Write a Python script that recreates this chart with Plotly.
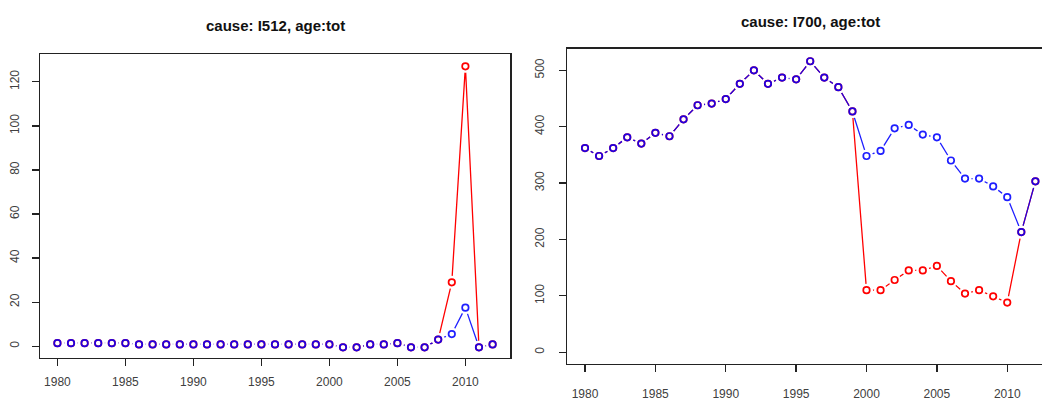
import plotly.graph_objects as go

years = list(range(1980, 2013))

# Panel 1: cause I512
i512_red = [1.4, 1.4, 1.4, 1.4, 1.4, 1.4,
            0.8, 0.8, 0.8, 0.8, 0.8, 0.8, 0.8, 0.8, 0.8, 0.8, 0.8, 0.8, 0.8, 0.8, 0.8,
            -0.5, -0.5, 0.8, 0.8, 1.4, -0.5, -0.5, 3, 29, 127, -0.5, 0.8]
i512_blue = [1.4, 1.4, 1.4, 1.4, 1.4, 1.4,
             0.8, 0.8, 0.8, 0.8, 0.8, 0.8, 0.8, 0.8, 0.8, 0.8, 0.8, 0.8, 0.8, 0.8, 0.8,
             -0.5, -0.5, 0.8, 0.8, 1.4, -0.5, -0.5, 3, 5.5, 17.5, -0.5, 0.8]

# Panel 2: cause I700
i700_red = [362, 348, 362, 381, 370, 389, 383, 413, 438, 441, 449, 476, 500, 476, 487, 484,
            516, 487, 470, 427,
            110, 110, 128, 145, 145, 153, 126, 104, 110, 99, 88, 213, 303]
i700_blue = [362, 348, 362, 381, 370, 389, 383, 413, 438, 441, 449, 476, 500, 476, 487, 484,
             516, 487, 470, 427,
             348, 357, 397, 403, 386, 381, 340, 308, 308, 294, 275, 213, 303]

titles = ["cause: I512, age:tot", "cause: I700, age:tot"]
x_ticks = [1980, 1985, 1990, 1995, 2000, 2005, 2010]
y_ticks_1 = [0, 20, 40, 60, 80, 100, 120]
y_ticks_2 = [0, 100, 200, 300, 400, 500]

RED = "#ff0000"
BLUE = "rgba(0,0,255,0.88)"

W, H = 1042, 401

fig = go.Figure()


def add_panel(red, blue, xa, ya):
    for vals, col in ((red, RED), (blue, BLUE)):
        fig.add_trace(go.Scatter(x=years, y=vals, mode="lines", xaxis=xa, yaxis=ya,
                                 line=dict(color=col, width=1.3), hoverinfo="skip"))
    # gaps around points (R type="b")
    for vals in (red, blue):
        fig.add_trace(go.Scatter(x=years, y=vals, mode="markers", xaxis=xa, yaxis=ya,
                                 marker=dict(symbol="circle", size=13, color="white",
                                             line=dict(width=0)), hoverinfo="skip"))
    for vals, col in ((red, RED), (blue, BLUE)):
        fig.add_trace(go.Scatter(x=years, y=vals, mode="markers", xaxis=xa, yaxis=ya,
                                 marker=dict(symbol="circle-open", size=6.5, color=col,
                                             line=dict(width=1.7, color=col)),
                                 hoverinfo="skip"))


add_panel(i512_red, i512_blue, "x", "y")
add_panel(i700_red, i700_blue, "x2", "y2")

tickfont = dict(family="Liberation Sans, Arial, sans-serif", size=12, color="#404040")
axis_common = dict(showgrid=False, zeroline=False, showline=True, linecolor="#222",
                   linewidth=1.5, ticks="outside", ticklen=7, tickwidth=1.3,
                   tickcolor="#222", tickfont=tickfont)


def px_x(x):
    return x / W


def px_y(y):
    return (H - y) / H


d1x = [px_x(40), px_x(510)]
d1y = [px_y(368), px_y(56)]
d2x = [px_x(567), 1.0]
d2y = [px_y(374), px_y(50)]

fig.update_layout(
    width=W, height=H,
    margin=dict(l=0, r=0, t=0, b=0),
    paper_bgcolor="white", plot_bgcolor="white",
    showlegend=False,
    xaxis=dict(domain=d1x, anchor="y", range=[1978.72, 2013.28], tickvals=x_ticks,
               mirror=True, ticklabelstandoff=5, **axis_common),
    yaxis=dict(domain=d1y, anchor="x", range=[-5.3, 132.4], tickvals=y_ticks_1,
               mirror=True, tickangle=-90, ticklabelstandoff=8, **axis_common),
    xaxis2=dict(domain=d2x, anchor="y2", range=[1978.72, 2012.47], tickvals=x_ticks,
                mirror=True, ticklabelstandoff=11, **axis_common),
    yaxis2=dict(domain=d2y, anchor="x2", range=[-20.5, 538.4], tickvals=y_ticks_2,
                mirror=False, tickangle=-90, ticklabelstandoff=10, **axis_common),
)

title_font = dict(family="Liberation Sans, Arial, sans-serif", size=15, color="#111")
fig.add_annotation(text="<b>" + titles[0] + "</b>", xref="paper", yref="paper",
                   x=(d1x[0] + d1x[1]) / 2, y=px_y(26.7), showarrow=False,
                   xanchor="center", yanchor="middle", font=title_font)
fig.add_annotation(text="<b>" + titles[1] + "</b>", xref="paper", yref="paper",
                   x=px_x((567 + 1053) / 2), y=px_y(21.7), showarrow=False,
                   xanchor="center", yanchor="middle", font=title_font)

fig.write_html("out.html", config={"displayModeBar": False, "staticPlot": True},
               post_script="document.body.style.margin='0px';"
                           "document.body.style.overflow='hidden';")
